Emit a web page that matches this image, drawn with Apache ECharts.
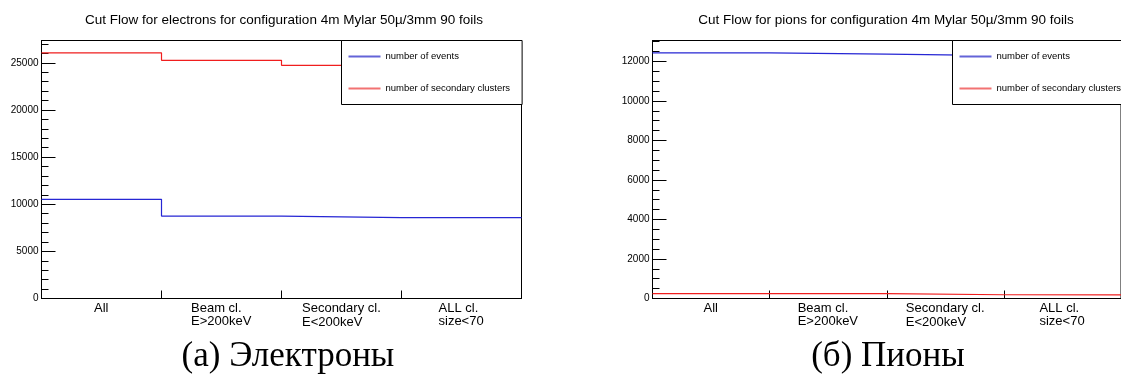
<!DOCTYPE html>
<html>
<head>
<meta charset="utf-8">
<script src="https://cdn.jsdelivr.net/npm/echarts@6/dist/echarts.min.js"></script>
<style>
  html, body { margin: 0; padding: 0; background: #fff; }
  #chart { width: 1121px; height: 376px; }
</style>
</head>
<body>
<div id="chart"></div>
<script>
// Cut-flow bins (one label line per '\n')
const categories = ['All', 'Beam cl.\nE>200keV', 'Secondary cl.\nE<200keV', 'ALL cl.\nsize<70'];
const seriesNames = ['number of events', 'number of secondary clusters'];

// Electrons
const electronEvents = [10520, 8740, 8580, 8580];
const electronClusters = [26060, 25260, 24730, 24700];

// Pions
const pionEvents = [12440, 12370, 12300, 12290];
const pionClusters = [250, 245, 190, 188];

const titles = [
  'Cut Flow for electrons for configuration 4m Mylar 50\u00b5/3mm 90 foils',
  'Cut Flow for pions for configuration 4m Mylar 50\u00b5/3mm 90 foils'
];
const captions = ['(\u0430) Электроны', '(б) Пионы'];

// ---- styling ----
const FONT = '"Liberation Sans", Arial, Helvetica, sans-serif';
const BLUE = '#2626d4';
const RED = '#f01e1e';
const LABEL_SIZE = 13;
const secondLineHeight = [13, 13, 16, 13];

const panels = [
  { left: 41.5, top: 40.5, width: 480, height: 258, major: 5000, minor: 1000,
    events: electronEvents, clusters: electronClusters,
    title: titles[0], titleX: 284, caption: captions[0], captionX: 288, legendLeft: 341.5 },
  { left: 652.5, top: 40.5, width: 480, height: 258, major: 2000, minor: 500,
    events: pionEvents, clusters: pionClusters,
    title: titles[1], titleX: 886, caption: captions[1], captionX: 888, legendLeft: 952.5 }
];
// histogram-style maximum: 5% headroom over the tallest bin
panels.forEach(p => { p.yMax = Math.max(...p.events, ...p.clusters) * 1.05; });

// step-line points spanning each bin edge to edge
function histPoints(vals) {
  const pts = vals.map((v, i) => [i, v]);
  pts.push([vals.length, vals[vals.length - 1]]);
  return pts;
}

// two-line bin labels: lines left-aligned inside a centred block
const measure = document.createElement('canvas').getContext('2d');
measure.font = LABEL_SIZE + 'px "Liberation Sans"';
const rich = {};
categories.forEach((c, i) => {
  const lines = c.split('\n');
  const w = Math.ceil(Math.max(...lines.map(l => measure.measureText(l).width)));
  lines.forEach((l, j) => {
    rich['c' + i + 'l' + j] = {
      width: w, align: 'left', fontSize: LABEL_SIZE, fontFamily: FONT, color: '#000',
      lineHeight: j === 0 ? 13 : secondLineHeight[i]
    };
  });
});
function binLabel(value, index) {
  const i = categories.indexOf(value) >= 0 ? categories.indexOf(value) : index;
  return categories[i].split('\n').map((l, j) => '{c' + i + 'l' + j + '|' + l + '}').join('\n');
}

const black = { color: '#000', width: 1 };

const option = {
  animation: false,
  backgroundColor: '#fff',
  grid: panels.map(p => ({
    left: p.left, top: p.top, width: p.width, height: p.height,
    show: true, borderColor: '#000', borderWidth: 1, backgroundColor: 'transparent'
  })),
  xAxis: panels.flatMap((p, k) => [
    {
      gridIndex: k, type: 'value', position: 'bottom', min: 0, max: categories.length, interval: 1,
      axisLine: { show: true, lineStyle: black },
      axisTick: { show: true, inside: true, length: 8, lineStyle: black },
      axisLabel: { show: false }, splitLine: { show: false }
    },
    {
      gridIndex: k, type: 'category', position: 'bottom', data: categories, boundaryGap: true,
      axisLine: { show: false }, axisTick: { show: false }, splitLine: { show: false },
      axisLabel: { interval: 0, margin: 3, formatter: binLabel, rich: rich }
    }
  ]),
  yAxis: panels.flatMap((p, k) => [
    {
      gridIndex: k, type: 'value', position: 'left', min: 0, max: p.yMax, interval: p.major,
      axisLine: { show: true, lineStyle: black },
      axisTick: { show: true, inside: true, length: 14, lineStyle: black },
      axisLabel: { showMaxLabel: false, margin: 3, fontSize: 10, fontFamily: FONT, color: '#000',
                   formatter: v => String(v) },
      splitLine: { show: false }
    },
    {
      gridIndex: k, type: 'value', position: 'left', min: 0, max: p.yMax, interval: p.minor,
      axisLine: { show: false },
      axisTick: { show: true, inside: true, length: 7, lineStyle: black },
      axisLabel: { show: false }, splitLine: { show: false }
    }
  ]),
  legend: panels.map(p => ({
    left: p.legendLeft, top: 40.5, orient: 'vertical',
    padding: [11, 12, 11, 6], itemWidth: 32, itemHeight: 10, itemGap: 22, itemTextGap: 6,
    backgroundColor: '#fff', borderColor: '#000', borderWidth: 1, borderRadius: 0,
    selectedMode: false,
    textStyle: { fontSize: 9.5, fontFamily: FONT, color: '#000' },
    data: [
      { name: seriesNames[0], itemStyle: { opacity: 0 }, lineStyle: { color: '#6464d8', width: 2 } },
      { name: seriesNames[1], itemStyle: { opacity: 0 }, lineStyle: { color: '#f27272', width: 2 } }
    ]
  })),
  series: panels.flatMap((p, k) => [
    {
      name: seriesNames[0], type: 'line', xAxisIndex: 2 * k, yAxisIndex: 2 * k,
      step: 'end', symbol: 'none', silent: true, data: histPoints(p.events),
      lineStyle: { color: BLUE, width: 1.2 }, itemStyle: { color: BLUE }
    },
    {
      name: seriesNames[1], type: 'line', xAxisIndex: 2 * k, yAxisIndex: 2 * k,
      step: 'end', symbol: 'none', silent: true, data: histPoints(p.clusters),
      lineStyle: { color: RED, width: 1.2 }, itemStyle: { color: RED }
    }
  ]),
  graphic: panels.flatMap(p => [
    {
      type: 'text', x: p.titleX, y: 20, silent: true,
      style: { text: p.title, font: '13.5px ' + FONT, fill: '#000', align: 'center', verticalAlign: 'middle' }
    },
    {
      type: 'text', x: p.captionX, y: 357, silent: true,
      style: { text: p.caption, font: '35px "Liberation Serif", "DejaVu Serif", serif', fill: '#000', align: 'center', verticalAlign: 'middle' }
    }
  ])
};

const chart = echarts.init(document.getElementById('chart'), null, { renderer: 'canvas' });
chart.setOption(option);
</script>
</body>
</html>
